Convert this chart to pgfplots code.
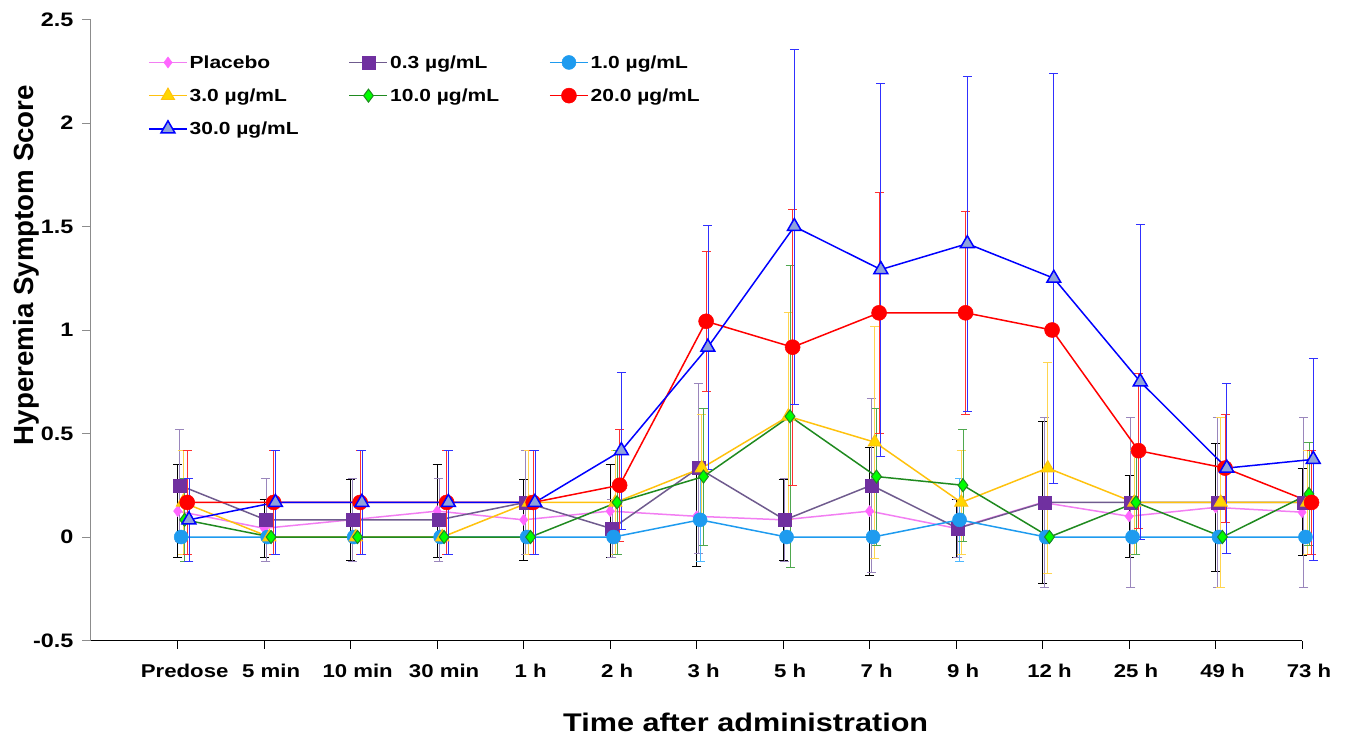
\documentclass[border=0pt]{standalone}
\usepackage{pgfplots}
\usepackage{pgfplotstable}
\pgfplotsset{compat=1.18}
\usepackage{fontspec}
\setmainfont{Liberation Sans}[FakeStretch=1.2]
\newfontfamily\ylabfont{Liberation Sans}
\definecolor{cPla}{HTML}{F27EF2}
\definecolor{cPlaM}{HTML}{FF66FF}
\definecolor{cA}{HTML}{6F5B8E}
\definecolor{cAM}{HTML}{7030A0}
\definecolor{cAE}{HTML}{9A86BC}
\definecolor{cB}{HTML}{1E9BEF}
\definecolor{cBE}{HTML}{4DB8FF}
\definecolor{cC}{HTML}{FFC20E}
\definecolor{cCM}{HTML}{FFD700}
\definecolor{cCE}{HTML}{FFD54F}
\definecolor{cD}{HTML}{1F8A1F}
\definecolor{cDM}{HTML}{00FF00}
\definecolor{cDE}{HTML}{4FA84F}
\definecolor{cE}{HTML}{FF0000}
\definecolor{cEE}{HTML}{FF3030}
\definecolor{cF}{HTML}{0000FF}
\definecolor{cFM}{HTML}{8FA3DC}
\definecolor{cFE}{HTML}{3030FF}

\pgfplotstableread{
i y e
0 0.125 0.225
1 0.042 0.14
2 0.083 0.195
3 0.125 0.225
4 0.083 0.195
5 0.125 0.225
6 0.100 0.24
7 0.083 0.195
8 0.125 0.31
9 0.042 0.14
10 0.167 0.39
11 0.100 0.20
12 0.143 0.31
13 0.120 0.21
}\tPla
\pgfplotstableread{
i y e
0 0.250 0.27
1 0.083 0.20
2 0.083 0.20
3 0.083 0.20
4 0.167 0.25
5 0.040 0.14
6 0.333 0.41
7 0.083 0.20
8 0.250 0.42
9 0.042 0.14
10 0.167 0.41
11 0.167 0.41
12 0.167 0.41
13 0.167 0.41
}\tA
\pgfplotstableread{
i y e
0 0 0
1 0 0
2 0 0
3 0 0
4 0 0
5 0 0
6 0.083 0.20
7 0 0
8 0 0
9 0.083 0.20
10 0 0
11 0 0
12 0 0
13 0 0
}\tB
\pgfplotstableread{
i y e
0 0.167 0.25
1 0 0
2 0 0
3 0 0
4 0.167 0.25
5 0.167 0.25
6 0.333 0.26
7 0.583 0.50
8 0.458 0.56
9 0.167 0.25
10 0.333 0.51
11 0.167 0.25
12 0.167 0.41
13 0.167 0.25
}\tC
\pgfplotstableread{
i y e
0 0.083 0.20
1 0 0
2 0 0
3 0 0
4 0 0
5 0.167 0.25
6 0.292 0.33
7 0.583 0.73
8 0.292 0.33
9 0.250 0.27
10 0 0
11 0.167 0.25
12 0 0
13 0.208 0.25
}\tD
\pgfplotstableread{
i y e
0 0.167 0.25
1 0.167 0.25
2 0.167 0.25
3 0.167 0.25
4 0.167 0.25
5 0.250 0.27
6 1.042 0.34
7 0.917 0.667
8 1.083 0.58
9 1.083 0.49
10 1.000 0
11 0.417 0.375
12 0.333 0.26
13 0.167 0.25
}\tE
\pgfplotstableread{
i y e
0 0.083 0.20
1 0.167 0.25
2 0.167 0.25
3 0.167 0.25
4 0.167 0.25
5 0.417 0.38
6 0.917 0.59
7 1.500 0.857
8 1.292 0.90
9 1.417 0.81
10 1.250 0.99
11 0.750 0.76
12 0.333 0.41
13 0.375 0.49
}\tF

\begin{document}
\begin{tikzpicture}
\useasboundingbox (0,0) rectangle (1346pt,737pt);
\begin{axis}[
  at={(90pt,96.5pt)}, anchor=south west,
  scale only axis, width=1212pt, height=621pt,
  xmin=-1.014, xmax=13, ymin=-0.5, ymax=2.5,
  clip=false,
  axis x line*=bottom, axis y line*=left,
  x axis line style={black, line width=1.5pt, -},
  y axis line style={black!45, line width=0.8pt, -},
  xtick={0,1,2,3,4,5,6,7,8,9,10,11,12,13},
  xticklabels={Predose,5 min,10 min,30 min,1 h,2 h,3 h,5 h,7 h,9 h,12 h,25 h,49 h,73 h},
  ytick={-0.5,0,0.5,1,1.5,2,2.5},
  yticklabels={-0.5,0,0.5,1,1.5,2,2.5},
  tick align=outside, major tick length=8pt,
  xtick style={black, line width=0.8pt},
  ytick style={black!45, line width=0.6pt},
  tick label style={font=\fontsize{18.5}{20}\selectfont\bfseries},
  xticklabel style={xshift=7pt, yshift=-12pt},
  yticklabel style={xshift=-5pt, font=\fontsize{19.5}{21}\selectfont\bfseries},
  xlabel={Time after administration},
  xlabel style={at={(axis description cs:0.541,0)}, anchor=base, yshift=-90.5pt, font=\fontsize{25.5}{28}\selectfont\bfseries},
  ylabel={Hyperemia Symptom Score},
  ylabel style={at={(axis description cs:-0.0466,0.6047)}, anchor=base, rotate=0, font=\ylabfont\fontsize{27.7}{30}\selectfont\bfseries},
  legend columns=3,
  legend cell align=left,
  legend style={draw=none, fill=none, at={(0.0454,0.949)}, anchor=north west, font=\fontsize{17.5}{19}\selectfont\bfseries, row sep=15pt},
  legend image code/.code={\draw[mark repeat=2,mark phase=2,#1,line width=1.5pt] plot coordinates {(0pt,0pt) (19pt,0pt) (38pt,0pt)};},
  error bars/y dir=both, error bars/y explicit,
]
\addplot[cPla, line width=1.5pt, mark=diamond*, mark size=5.5pt, mark options={fill=cPlaM, draw=cPlaM, line width=0.5pt},
  error bars/error bar style={black, line width=0.7pt},
  error bars/error mark options={black, line width=0.7pt, mark size=4.5pt, rotate=90}]
  table[x expr=\thisrow{i}, y=y, y error=e]{\tPla};
\addlegendentry{\makebox[157pt][l]{Placebo}}
\addplot[cA, line width=1.5pt, mark=square*, mark size=6.5pt, mark options={fill=cAM, draw=cAM, line width=0.5pt},
  error bars/error bar style={cAE, line width=0.7pt},
  error bars/error mark options={cAE, line width=0.7pt, mark size=4.5pt, rotate=90}]
  table[x expr=\thisrow{i}+0.02, y=y, y error=e]{\tA};
\addlegendentry{\makebox[157pt][l]{0.3 µg/mL}}
\addplot[cB, line width=1.5pt, mark=*, mark size=7pt, mark options={fill=cB, draw=cB, line width=0.5pt},
  error bars/error bar style={cBE, line width=0.7pt},
  error bars/error mark options={cBE, line width=0.7pt, mark size=4.5pt, rotate=90}]
  table[x expr=\thisrow{i}+0.04, y=y, y error=e]{\tB};
\addlegendentry{\makebox[157pt][l]{1.0 µg/mL}}
\addplot[cC, line width=1.5pt, mark=triangle*, mark size=7.5pt, mark options={fill=cCM, draw=cC, line width=1pt},
  error bars/error bar style={cCE, line width=0.7pt},
  error bars/error mark options={cCE, line width=0.7pt, mark size=4.5pt, rotate=90}]
  table[x expr=\thisrow{i}+0.06, y=y, y error=e]{\tC};
\addlegendentry{\makebox[157pt][l]{3.0 µg/mL}}
\addplot[cD, line width=1.5pt, mark=diamond*, mark size=6.5pt, mark options={fill=cDM, draw=cD, line width=1pt},
  error bars/error bar style={cDE, line width=0.7pt},
  error bars/error mark options={cDE, line width=0.7pt, mark size=4.5pt, rotate=90}]
  table[x expr=\thisrow{i}+0.08, y=y, y error=e]{\tD};
\addlegendentry{\makebox[157pt][l]{10.0 µg/mL}}
\addplot[cE, line width=1.5pt, mark=*, mark size=7.5pt, mark options={fill=cE, draw=cE, line width=0.5pt},
  error bars/error bar style={cEE, line width=0.7pt},
  error bars/error mark options={cEE, line width=0.7pt, mark size=4.5pt, rotate=90}]
  table[x expr=\thisrow{i}+0.11, y=y, y error=e]{\tE};
\addlegendentry{\makebox[157pt][l]{20.0 µg/mL}}
\addplot[cF, line width=1.5pt, mark=triangle*, mark size=8pt, mark options={fill=cFM, draw=cF, line width=1.5pt},
  error bars/error bar style={cFE, line width=0.7pt},
  error bars/error mark options={cFE, line width=0.7pt, mark size=4.5pt, rotate=90}]
  table[x expr=\thisrow{i}+0.13, y=y, y error=e]{\tF};
\addlegendentry{\makebox[157pt][l]{30.0 µg/mL}}
\end{axis}
\end{tikzpicture}
\end{document}
